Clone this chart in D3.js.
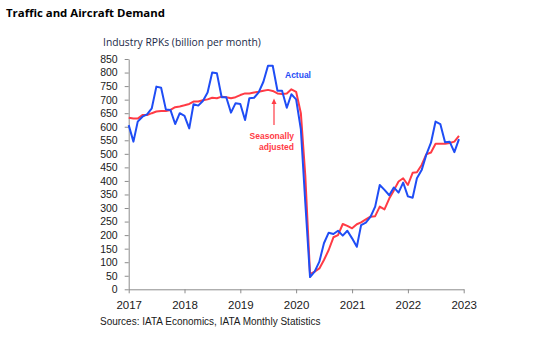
<!DOCTYPE html>
<html>
<head>
<meta charset="utf-8">
<script src="https://cdn.jsdelivr.net/npm/d3@7"></script>
<style>
  html, body { margin: 0; padding: 0; background: #fff; }
  svg { display: block; }
</style>
</head>
<body>
<svg id="chart" width="552" height="343"></svg>
<script>
// ---- Data (monthly, Jan 2017 – Dec 2022) ----
const startYear = 2017;
const actual = [
  606,545,619,637,646,668,748,744,664,662,610,650,
  640,594,683,678,695,726,800,797,709,709,652,687,
  684,625,705,707,727,766,825,825,733,733,670,720,
  701,590,320,45,65,102,170,209,204,216,198,216,
  188,157,237,246,267,305,385,367,347,376,357,394,
  343,338,410,440,496,541,619,610,543,545,506,554
];
const seasonallyAdjusted = [
  633,630,630,643,643,650,656,658,658,662,672,675,
  679,684,693,693,698,701,707,705,711,709,705,709,
  717,723,723,726,729,733,736,732,723,721,723,738,
  729,650,420,56,65,77,108,145,192,200,241,234,
  225,240,247,258,268,270,305,295,335,365,398,410,
  385,430,432,459,498,505,537,537,537,540,545,566
];
const yTicks = [0,50,100,150,200,250,300,350,400,450,500,550,600,650,700,750,800,850];
const xTickYears = [2017,2018,2019,2020,2021,2022,2023];

const title = "Traffic and Aircraft Demand";
const yLabel = "Industry RPKs (billion per month)";
const source = "Sources: IATA Economics, IATA Monthly Statistics";
const labelActual = "Actual";
const labelSA = ["Seasonally", "adjusted"];

// ---- Layout ----
const svg = d3.select("#chart");
const mLeft = 128.7, mRight = 463.7, mTop = 59, mBottom = 289.3;
const blue = "#1f4df5", red = "#ff3b45", axisCol = "#8c8c8c", textCol = "#1a1a1a";

const dates = actual.map((_, i) => new Date(startYear, i, 1));
const x = d3.scaleTime()
  .domain([new Date(2017, 0, 1), new Date(2023, 0, 1)])
  .range([mLeft, mRight]);
const y = d3.scaleLinear().domain([0, 850]).range([mBottom, mTop]);

// Title
svg.append("text")
  .attr("x", 6).attr("y", 17)
  .attr("font-family", "Open Sans, sans-serif")
  .attr("font-weight", "bold").attr("font-size", 11.4)
  .attr("fill", "#000").text(title);

// Y label
svg.append("text")
  .attr("x", 103).attr("y", 46)
  .attr("font-family", "Open Sans, sans-serif")
  .attr("font-size", 10.3).attr("fill", "#1b2a48").text(yLabel);

// Axes
const yAxis = d3.axisLeft(y).tickValues(yTicks).tickSize(4).tickSizeOuter(0).tickPadding(7);
const gy = svg.append("g").attr("transform", `translate(${mLeft},0)`).call(yAxis);
const xAxis = d3.axisBottom(x)
  .tickValues(xTickYears.map(yr => new Date(yr, 0, 1)))
  .tickFormat(d3.timeFormat("%Y")).tickSize(4).tickSizeOuter(0).tickPadding(7.5);
const gx = svg.append("g").attr("transform", `translate(0,${mBottom})`).call(xAxis);

[gy, gx].forEach(g => {
  g.selectAll("path.domain").attr("stroke", axisCol).attr("stroke-width", 1);
  g.selectAll(".tick line").attr("stroke", axisCol);
  g.selectAll("text").attr("fill", textCol)
    .attr("font-family", "Liberation Sans, Arial, sans-serif");
});
gy.selectAll("text").attr("font-size", 10.5);
gx.selectAll("text").attr("font-size", 11.5);

// Lines
const line = d3.line().x((d, i) => x(dates[i])).y(d => y(d));
svg.append("path").datum(seasonallyAdjusted)
  .attr("d", line).attr("fill", "none")
  .attr("stroke", red).attr("stroke-width", 2).attr("stroke-linejoin", "round");
svg.append("path").datum(actual)
  .attr("d", line).attr("fill", "none")
  .attr("stroke", blue).attr("stroke-width", 2).attr("stroke-linejoin", "round");

// Annotations
svg.append("text")
  .attr("x", 285).attr("y", 78)
  .attr("font-family", "Liberation Sans, Arial, sans-serif")
  .attr("font-weight", "bold").attr("font-size", 8.5)
  .attr("fill", blue).text(labelActual);

const saText = svg.append("text")
  .attr("font-family", "Liberation Sans, Arial, sans-serif")
  .attr("font-weight", "bold").attr("font-size", 8.5)
  .attr("fill", red).attr("text-anchor", "end");
saText.append("tspan").attr("x", 294).attr("y", 139).text(labelSA[0]);
saText.append("tspan").attr("x", 294).attr("y", 150).text(labelSA[1]);

// Arrow
const ax = 274;
svg.append("line")
  .attr("x1", ax).attr("x2", ax).attr("y1", 102).attr("y2", 125)
  .attr("stroke", red).attr("stroke-width", 1.2);
svg.append("path")
  .attr("d", `M${ax - 2.5},104 L${ax},98.5 L${ax + 2.5},104 Z`)
  .attr("fill", red);

// Source
svg.append("text")
  .attr("x", 100).attr("y", 325)
  .attr("font-family", "Liberation Sans, Arial, sans-serif")
  .attr("font-size", 10).attr("fill", textCol).text(source);
</script>
</body>
</html>
